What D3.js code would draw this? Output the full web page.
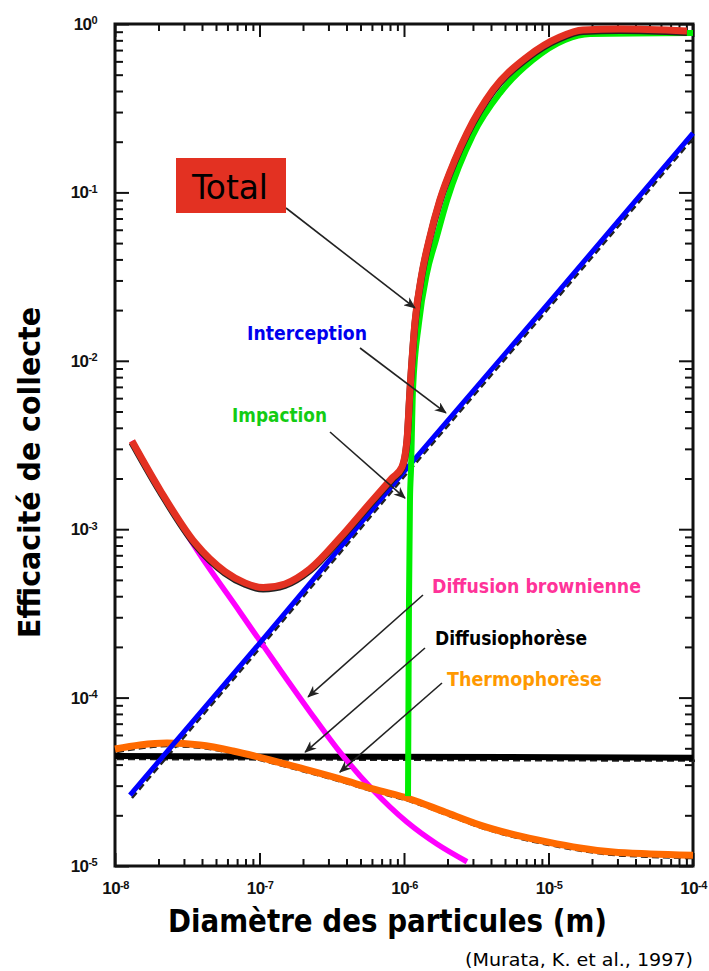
<!DOCTYPE html>
<html>
<head>
<meta charset="utf-8">
<script src="https://cdn.jsdelivr.net/npm/d3@7"></script>
<style>
  body { margin: 0; background: #fff; }
  svg { display: block; }
  .lbl { font-family: "DejaVu Sans Condensed", "DejaVu Sans", sans-serif; font-stretch: condensed; }
</style>
</head>
<body>
<svg id="chart" width="709" height="971"></svg>
<script>
// Collection efficiency vs particle diameter (log-log)

// Interception
const interceptionD = [1.27e-8, 1e-7, 1e-6, 1e-5, 1e-4];
const interceptionE = [2.64e-5, 2.1e-4, 2.2e-3, 2.2e-2, 0.225];

// Impaction
const impactionD = [1.066e-6, 1.074e-6, 1.083e-6, 1.1e-6, 1.118e-6, 1.154e-6, 1.27e-6, 1.443e-6, 1.665e-6, 1.99e-6, 3.0e-6, 4.62e-6, 7.81e-6, 1.3e-5, 1.94e-5, 1e-4];
const impactionE = [2.6e-5, 9.7e-5, 3.8e-4, 1.49e-3, 2.25e-3, 6.7e-3, 1.68e-2, 3.32e-2, 5.22e-2, 9.0e-2, 0.219, 0.389, 0.611, 0.803, 0.872, 0.884];

// Diffusion brownienne
const brownD = [1.31e-8, 2.05e-8, 3.69e-8, 7.33e-8, 1.39e-7, 2.24e-7, 3.6e-7, 6.09e-7, 1.05e-6, 1.69e-6, 2.73e-6];
const brownE = [3.34e-3, 1.71e-3, 7.52e-4, 3.22e-4, 1.46e-4, 8.21e-5, 4.75e-5, 2.83e-5, 1.82e-5, 1.35e-5, 1.06e-5];

// Diffusiophorèse
const diffusioD = [1e-8, 1e-4];
const diffusioE = [4.5e-5, 4.4e-5];

// Thermophorèse
const thermoD = [1e-8, 1.49e-8, 2.29e-8, 3.87e-8, 6.56e-8, 1.18e-7, 1.91e-7, 3.6e-7, 6.09e-7, 1.1e-6, 1.92e-6, 3.36e-6, 5.86e-6, 9.77e-6, 1.65e-5, 2.79e-5, 5.04e-5, 1e-4];
const thermoE = [4.95e-5, 5.23e-5, 5.37e-5, 5.23e-5, 4.82e-5, 4.26e-5, 3.82e-5, 3.29e-5, 2.87e-5, 2.5e-5, 2.09e-5, 1.75e-5, 1.53e-5, 1.39e-5, 1.28e-5, 1.21e-5, 1.18e-5, 1.16e-5];

// Total
const totalD = [1.31e-8, 2.05e-8, 3.58e-8, 5.77e-8, 7.94e-8, 1.06e-7, 1.5e-7, 2.23e-7, 3.6e-7, 5.82e-7, 8.26e-7, 9.68e-7, 1.049e-6, 1.1e-6, 1.19e-6, 1.33e-6, 1.49e-6, 1.77e-6, 2.25e-6, 2.73e-6, 4.13e-6, 7.1e-6, 1.2e-5, 1.73e-5, 3.13e-5, 9.08e-5];
const totalE = [3.34e-3, 1.71e-3, 8.3e-4, 5.6e-4, 4.8e-4, 4.5e-4, 4.73e-4, 5.8e-4, 8.87e-4, 1.43e-3, 2.01e-3, 2.34e-3, 3.39e-3, 6.7e-3, 1.68e-2, 3.3e-2, 5.2e-2, 9.0e-2, 0.156, 0.225, 0.406, 0.637, 0.837, 0.921, 0.934, 0.91];

// Axis ticks
const xTickValues = [1e-8, 1e-7, 1e-6, 1e-5, 1e-4];
const xTickExponents = ["-8", "-7", "-6", "-5", "-4"];
const yTickValues = [1e-5, 1e-4, 1e-3, 1e-2, 1e-1, 1];
const yTickExponents = ["-5", "-4", "-3", "-2", "-1", "0"];

const zip = (a, b) => a.map((v, i) => [v, b[i]]);

const svg = d3.select("#chart");
const plot = { left: 115, right: 693, top: 24, bottom: 866 };

const x = d3.scaleLog().domain([1e-8, 1e-4]).range([plot.left, plot.right]);
const y = d3.scaleLog().domain([1e-5, 1]).range([plot.bottom, plot.top]);

// minor ticks 2..9 inside each decade
const minorOf = vals => {
  const out = [];
  for (let i = 0; i < vals.length - 1; i++)
    for (let m = 2; m <= 9; m++) out.push(vals[i] * m);
  return out;
};

function styleAxis(g) {
  g.select(".domain").remove();
  g.selectAll(".tick line").attr("stroke", "#111").attr("stroke-width", 2);
}

function supLabels(g, exps) {
  g.selectAll(".tick text").each(function (d, i) {
    const t = d3.select(this);
    t.text(null)
      .attr("font-family", "'Liberation Sans', Arial, sans-serif")
      .attr("font-weight", "bold")
      .attr("font-size", 17)
      .attr("letter-spacing", -0.6)
      .attr("fill", "#111");
    t.append("tspan").text("10");
    t.append("tspan").attr("dy", "-0.5em").attr("font-size", 11).text(exps[i]);
  });
}

// bottom axis (labelled)
svg.append("g").attr("transform", `translate(0,${plot.bottom})`)
  .call(d3.axisBottom(x).tickValues(xTickValues).tickSize(-13).tickPadding(16).tickFormat(() => ""))
  .call(styleAxis).call(g => supLabels(g, xTickExponents));
svg.append("g").attr("transform", `translate(0,${plot.bottom})`)
  .call(d3.axisBottom(x).tickValues(minorOf(xTickValues)).tickSize(-7).tickFormat(() => ""))
  .call(styleAxis);
// top axis
svg.append("g").attr("transform", `translate(0,${plot.top})`)
  .call(d3.axisTop(x).tickValues(xTickValues).tickSize(-13).tickFormat(() => ""))
  .call(styleAxis);
svg.append("g").attr("transform", `translate(0,${plot.top})`)
  .call(d3.axisTop(x).tickValues(minorOf(xTickValues)).tickSize(-7).tickFormat(() => ""))
  .call(styleAxis);
// left axis (labelled)
svg.append("g").attr("transform", `translate(${plot.left},0)`)
  .call(d3.axisLeft(y).tickValues(yTickValues).tickSize(-14).tickPadding(18).tickFormat(() => ""))
  .call(styleAxis).call(g => supLabels(g, yTickExponents));
svg.append("g").attr("transform", `translate(${plot.left},0)`)
  .call(d3.axisLeft(y).tickValues(minorOf(yTickValues)).tickSize(-8).tickFormat(() => ""))
  .call(styleAxis);
// right axis
svg.append("g").attr("transform", `translate(${plot.right},0)`)
  .call(d3.axisRight(y).tickValues(yTickValues).tickSize(-14).tickFormat(() => ""))
  .call(styleAxis);
svg.append("g").attr("transform", `translate(${plot.right},0)`)
  .call(d3.axisRight(y).tickValues(minorOf(yTickValues)).tickSize(-8).tickFormat(() => ""))
  .call(styleAxis);

// frame
svg.append("rect")
  .attr("x", plot.left).attr("y", plot.top)
  .attr("width", plot.right - plot.left).attr("height", plot.bottom - plot.top)
  .attr("fill", "none").attr("stroke", "#111").attr("stroke-width", 3);

const line = d3.line().x(d => x(d[0])).y(d => y(d[1])).curve(d3.curveMonotoneX);
const straight = d3.line().x(d => x(d[0])).y(d => y(d[1]));

const curves = svg.append("g").attr("fill", "none").attr("stroke-linejoin", "round");

// underlying dashed black traces
[[straight, zip(interceptionD, interceptionE)], [line, zip(thermoD, thermoE)], [straight, zip(diffusioD, diffusioE)]]
  .forEach(([gen, pts]) => {
    curves.append("path").attr("d", gen(pts))
      .attr("transform", "translate(2,3)")
      .attr("stroke", "#222").attr("stroke-width", 2.5)
      .attr("stroke-dasharray", "7,4");
  });

curves.append("path").attr("d", straight(zip(diffusioD, diffusioE)))
  .attr("stroke", "#000").attr("stroke-width", 6);
curves.append("path").attr("d", line(zip(brownD, brownE)))
  .attr("stroke", "#ff00ff").attr("stroke-width", 5.5);
curves.append("path").attr("d", line(zip(thermoD, thermoE)))
  .attr("stroke", "#ff6a00").attr("stroke-width", 7);
curves.append("path").attr("d", straight(zip(interceptionD, interceptionE)))
  .attr("stroke", "#0000ff").attr("stroke-width", 5);
curves.append("path").attr("d", line(zip(impactionD, impactionE)))
  .attr("stroke", "#00ee00").attr("stroke-width", 6);
curves.append("path").attr("d", line(zip(totalD, totalE)))
  .attr("transform", "translate(0,1.5)")
  .attr("stroke", "#222").attr("stroke-width", 7);
curves.append("path").attr("d", line(zip(totalD, totalE)))
  .attr("stroke", "#e33122").attr("stroke-width", 7);

// arrows
const defs = svg.append("defs");
defs.append("marker").attr("id", "arrow")
  .attr("viewBox", "0 0 12 10").attr("refX", 11).attr("refY", 5)
  .attr("markerWidth", 12).attr("markerHeight", 10)
  .attr("markerUnits", "userSpaceOnUse").attr("orient", "auto")
  .append("path").attr("d", "M0,0 L12,5 L0,10 L3.5,5 Z").attr("fill", "#222");

const arrows = [
  { from: [286, 208], to: [1.19e-6, 2.06e-2] },
  { from: [360, 348], to: [1.95e-6, 4.9e-3] },
  { from: [330, 432], to: [1.016e-6, 1.53e-3] },
  { from: [423, 595], to: [2.17e-7, 1.01e-4] },
  { from: [425, 648], to: [2.07e-7, 4.75e-5] },
  { from: [442, 683], to: [3.6e-7, 3.61e-5] }
];
svg.append("g").selectAll("line").data(arrows).join("line")
  .attr("x1", d => d.from[0]).attr("y1", d => d.from[1])
  .attr("x2", d => x(d.to[0])).attr("y2", d => y(d.to[1]))
  .attr("stroke", "#222").attr("stroke-width", 1.6)
  .attr("marker-end", "url(#arrow)");

// "Total" badge
svg.append("rect").attr("x", 176).attr("y", 158).attr("width", 110).attr("height", 55)
  .attr("fill", "#e33122");
svg.append("text").attr("class", "lbl").attr("x", 192).attr("y", 199)
  .attr("font-size", 33).attr("fill", "#000")
  .attr("textLength", 76).attr("lengthAdjust", "spacingAndGlyphs")
  .text("Total");

// curve labels
const labels = [
  { t: "Interception", c: "#0000ee", x: 247, y: 340, w: 120 },
  { t: "Impaction", c: "#13cc13", x: 232, y: 422, w: 95 },
  { t: "Diffusion brownienne", c: "#ff3399", x: 432, y: 593, w: 209 },
  { t: "Diffusiophorèse", c: "#000", x: 435, y: 645, w: 152 },
  { t: "Thermophorèse", c: "#ff9900", x: 447, y: 686, w: 155 }
];
svg.append("g").selectAll("text").data(labels).join("text")
  .attr("class", "lbl")
  .attr("x", d => d.x).attr("y", d => d.y)
  .attr("font-size", 20).attr("font-weight", "bold")
  .attr("fill", d => d.c)
  .attr("textLength", d => d.w).attr("lengthAdjust", "spacingAndGlyphs")
  .text(d => d.t);

// axis titles
svg.append("text").attr("class", "lbl")
  .attr("x", 168).attr("y", 932)
  .attr("font-size", 32).attr("font-weight", "bold").attr("fill", "#000")
  .attr("textLength", 439).attr("lengthAdjust", "spacingAndGlyphs")
  .text("Diamètre des particules (m)");

svg.append("text").attr("class", "lbl")
  .attr("transform", "translate(40,638) rotate(-90)")
  .attr("font-size", 30).attr("font-weight", "bold").attr("fill", "#000")
  .attr("textLength", 331).attr("lengthAdjust", "spacingAndGlyphs")
  .text("Efficacité de collecte");

svg.append("text").attr("class", "lbl")
  .attr("x", 465).attr("y", 966)
  .attr("font-size", 18).attr("fill", "#000")
  .attr("textLength", 228).attr("lengthAdjust", "spacingAndGlyphs")
  .text("(Murata, K. et al., 1997)");
</script>
</body>
</html>
